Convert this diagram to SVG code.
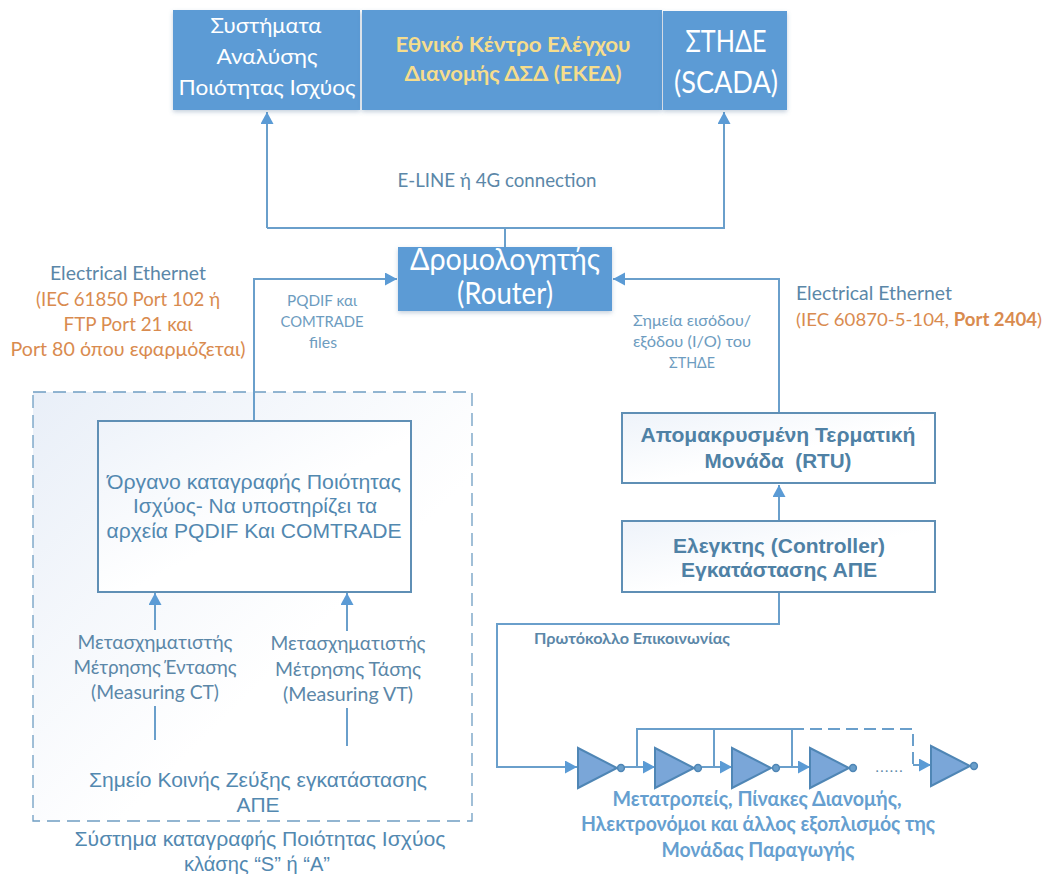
<svg xmlns="http://www.w3.org/2000/svg" width="1046" height="874" viewBox="0 0 1046 874">
<style>
text{font-family:"Lato","Noto Sans",sans-serif;text-anchor:middle;fill:#5b87a8}
.ar{font-family:"Liberation Sans",Arial,sans-serif;fill:#5288b0}
.arb{font-family:"Liberation Sans",Arial,sans-serif;font-weight:700;fill:#4f81a5}
.w{fill:#fff}.y{fill:#f6dd8c;font-weight:700}.o{fill:#d98b4f}
.m{fill:#6d9cc0}
.blue{font-weight:700;fill:#669fd0}
.box{fill:#5b9bd5}
.out{stroke:#5f8fb5;stroke-width:2;fill:url(#g2)}
.c{fill:none;stroke:#6a9fcb;stroke-width:2}
.t{fill:#7aa6d8;stroke:#4f86b5;stroke-width:2}
.b{fill:#6a9fcb;stroke:#4f86b5;stroke-width:1.5}
</style>
<defs>
<linearGradient id="g" x1="0" y1="0" x2="1" y2="1"><stop offset="0" stop-color="#e9eff8"/><stop offset=".6" stop-color="#fff"/></linearGradient>
<linearGradient id="g2" x1="0" y1="0" x2="1" y2="1"><stop offset="0" stop-color="#eef3fa"/><stop offset=".55" stop-color="#fff"/></linearGradient>
<filter id="s" x="-5%" y="-5%" width="110%" height="115%"><feDropShadow dx="0" dy="2" stdDeviation="2" flood-color="#5b7da0" flood-opacity=".35"/></filter>
<marker id="a" markerUnits="userSpaceOnUse" markerWidth="13" markerHeight="14" refX="12" refY="6.5" orient="auto"><path d="M0 0L12 6.5L0 13Z" fill="#5b9bd5"/></marker>
</defs>
<g id="recording-system">
<rect x="33" y="392" width="439" height="429" fill="url(#g)" stroke="#6f9dc2" stroke-width="1.3" stroke-dasharray="13 7"/>
<text class="ar" x="260" y="846" font-size="21" textLength="371" lengthAdjust="spacingAndGlyphs">Σύστημα καταγραφής Ποιότητας Ισχύος</text>
<text class="ar" x="257" y="871" font-size="21" textLength="146" lengthAdjust="spacingAndGlyphs">κλάσης “S” ή “A”</text>
</g>
<g id="connectors">
<path class="c" d="M267 228V112" marker-end="url(#a)"/>
<path class="c" d="M267 228H724V112" marker-end="url(#a)"/>
<path class="c" d="M505 228V247"/>
<path class="c" d="M254 421V279H397" marker-end="url(#a)"/>
<path class="c" d="M779 413V279H613" marker-end="url(#a)"/>
<path class="c" d="M155 630V593" marker-end="url(#a)"/>
<path class="c" d="M347 631V593" marker-end="url(#a)"/>
<path class="c" d="M155 706V740" stroke="#5f8fb5"/>
<path class="c" d="M347 708V746"/>
<path class="c" d="M779 521V485" marker-end="url(#a)"/>
<path class="c" d="M779 592V624H497V767H577" marker-end="url(#a)"/>
<path class="c" d="M625 767H655" marker-end="url(#a)"/>
<path class="c" d="M702 767H732" marker-end="url(#a)"/>
<path class="c" d="M780 767H810" marker-end="url(#a)"/>
<path class="c" d="M637 767V729H792V767M714 729V767"/>
<path class="c" d="M792 729H913V765" stroke-dasharray="12 6"/>
<path class="c" d="M913 765H931" marker-end="url(#a)"/>
</g>
<g id="pq-systems"><rect class="box" x="173" y="10" width="187" height="100" filter="url(#s)"/>
<text class="w" x="266" y="33" font-size="22" textLength="111" lengthAdjust="spacingAndGlyphs">Συστήματα</text>
<text class="w" x="267" y="64" font-size="22" textLength="101" lengthAdjust="spacingAndGlyphs">Αναλύσης</text>
<text class="w" x="267" y="95" font-size="22" textLength="177" lengthAdjust="spacingAndGlyphs">Ποιότητας Ισχύος</text></g>
<g id="eked"><rect class="box" x="362" y="10" width="300" height="100" filter="url(#s)"/>
<text class="y" x="513" y="52" font-size="20" textLength="235" lengthAdjust="spacingAndGlyphs">Εθνικό Κέντρο Ελέγχου</text>
<text class="y" x="513" y="81" font-size="20" textLength="217" lengthAdjust="spacingAndGlyphs">Διανομής ΔΣΔ (ΕΚΕΔ)</text></g>
<g id="scada"><rect class="box" x="663" y="11" width="124" height="99" filter="url(#s)"/>
<text class="w" x="726" y="52" font-size="31" textLength="81" lengthAdjust="spacingAndGlyphs">ΣΤΗΔΕ</text>
<text class="w" x="726" y="93" font-size="31" textLength="104" lengthAdjust="spacingAndGlyphs">(SCADA)</text></g>
<g id="router"><rect class="box" x="398" y="247" width="214" height="64" filter="url(#s)"/>
<text class="w" x="505" y="270" font-size="30" textLength="190" lengthAdjust="spacingAndGlyphs">Δρομολογητής</text>
<text class="w" x="505" y="304" font-size="30" textLength="96" lengthAdjust="spacingAndGlyphs">(Router)</text></g>
<text x="497" y="187" font-size="19" textLength="199" lengthAdjust="spacingAndGlyphs">E-LINE ή 4G connection</text>
<text x="128" y="280" font-size="19" textLength="156" lengthAdjust="spacingAndGlyphs">Electrical Ethernet</text>
<text class="o" x="128" y="306" font-size="20" textLength="184" lengthAdjust="spacingAndGlyphs">(IEC 61850 Port 102 ή</text>
<text class="o" x="128" y="331" font-size="20" textLength="129" lengthAdjust="spacingAndGlyphs">FTP Port 21 και</text>
<text class="o" x="128" y="356" font-size="20" textLength="235" lengthAdjust="spacingAndGlyphs">Port 80 όπου εφαρμόζεται)</text>
<text class="m" x="322" y="306" font-size="16" textLength="70" lengthAdjust="spacingAndGlyphs">PQDIF και</text>
<text class="m" x="322" y="327" font-size="16" textLength="83" lengthAdjust="spacingAndGlyphs">COMTRADE</text>
<text class="m" x="323" y="348" font-size="16" textLength="28" lengthAdjust="spacingAndGlyphs">files</text>
<text x="874" y="300" font-size="19" textLength="156" lengthAdjust="spacingAndGlyphs">Electrical Ethernet</text>
<text class="o" x="919" y="326" font-size="18" textLength="246" lengthAdjust="spacingAndGlyphs">(IEC 60870-5-104, <tspan font-weight="700">Port 2404</tspan>)</text>
<text class="m" x="692" y="326" font-size="16" textLength="118" lengthAdjust="spacingAndGlyphs">Σημεία εισόδου/</text>
<text class="m" x="692" y="347" font-size="16" textLength="118" lengthAdjust="spacingAndGlyphs">εξόδου (I/O) του</text>
<text class="m" x="692" y="368" font-size="16" textLength="46" lengthAdjust="spacingAndGlyphs">ΣΤΗΔΕ</text>
<g id="recorder"><rect class="out" x="98" y="421" width="313" height="171"/>
<text class="ar" x="254" y="489" font-size="21" textLength="294" lengthAdjust="spacingAndGlyphs">Όργανο καταγραφής Ποιότητας</text>
<text class="ar" x="255" y="513" font-size="21" textLength="244" lengthAdjust="spacingAndGlyphs">Ισχύος- Να υποστηρίζει τα</text>
<text class="ar" x="254" y="538" font-size="21" textLength="295" lengthAdjust="spacingAndGlyphs">αρχεία PQDIF Και COMTRADE</text></g>
<g id="ct"><text x="155" y="649" font-size="20" textLength="155" lengthAdjust="spacingAndGlyphs">Μετασχηματιστής</text>
<text x="155" y="674" font-size="20" textLength="163" lengthAdjust="spacingAndGlyphs">Μέτρησης Έντασης</text>
<text x="155" y="699" font-size="20" textLength="128" lengthAdjust="spacingAndGlyphs">(Measuring CT)</text></g>
<g id="vt"><text x="348" y="650" font-size="20" textLength="155" lengthAdjust="spacingAndGlyphs">Μετασχηματιστής</text>
<text x="348" y="676" font-size="20" textLength="146" lengthAdjust="spacingAndGlyphs">Μέτρησης Τάσης</text>
<text x="348" y="701" font-size="20" textLength="130" lengthAdjust="spacingAndGlyphs">(Measuring VT)</text></g>
<g id="pcc"><text class="ar" x="258" y="787" font-size="20.5" textLength="338" lengthAdjust="spacingAndGlyphs">Σημείο Κοινής Ζεύξης εγκατάστασης</text>
<text class="ar" x="258" y="812" font-size="20.5" textLength="43" lengthAdjust="spacingAndGlyphs">ΑΠΕ</text></g>
<g id="rtu"><rect class="out" x="622" y="413" width="313" height="70"/>
<text class="arb" x="778" y="442" font-size="20.5" textLength="275" lengthAdjust="spacingAndGlyphs">Απομακρυσμένη Τερματική</text>
<text class="arb" x="778" y="468" font-size="20.5" textLength="147" lengthAdjust="spacingAndGlyphs" style="white-space:pre">Μονάδα  (RTU)</text></g>
<g id="controller"><rect class="out" x="622" y="521" width="313" height="71"/>
<text class="arb" x="779" y="553" font-size="20.5" textLength="212" lengthAdjust="spacingAndGlyphs">Ελεγκτης (Controller)</text>
<text class="arb" x="779" y="577" font-size="20.5" textLength="196" lengthAdjust="spacingAndGlyphs">Εγκατάστασης ΑΠΕ</text></g>
<text x="632" y="644" font-size="14.5" font-weight="700" textLength="196" lengthAdjust="spacingAndGlyphs">Πρωτόκολλο Επικοινωνίας</text>
<g id="unit1"><path class="t" d="M578 748V788L617 768Z"/><circle class="b" cx="621" cy="768" r="3.4"/></g>
<g id="unit2"><path class="t" d="M655 748V788L694 768Z"/><circle class="b" cx="698" cy="768" r="3.4"/></g>
<g id="unit3"><path class="t" d="M732 748V788L771 768Z"/><circle class="b" cx="776" cy="768" r="3.4"/></g>
<g id="unit4"><path class="t" d="M810 748V788L849 768Z"/><circle class="b" cx="853" cy="768" r="3.4"/></g>
<g id="unit5"><path class="t" d="M931 746V786L970 766Z"/><circle class="b" cx="974" cy="766" r="3.4"/></g>
<text x="889" y="772" font-size="14" textLength="27" lengthAdjust="spacing">......</text>
<g id="equipment"><text class="blue" x="757" y="806" font-size="20.5" textLength="289" lengthAdjust="spacingAndGlyphs">Μετατροπείς, Πίνακες Διανομής,</text>
<text class="blue" x="758" y="831" font-size="20.5" textLength="354" lengthAdjust="spacingAndGlyphs">Ηλεκτρονόμοι και άλλος εξοπλισμός της</text>
<text class="blue" x="758" y="857" font-size="20.5" textLength="193" lengthAdjust="spacingAndGlyphs">Μονάδας Παραγωγής</text></g>
</svg>
